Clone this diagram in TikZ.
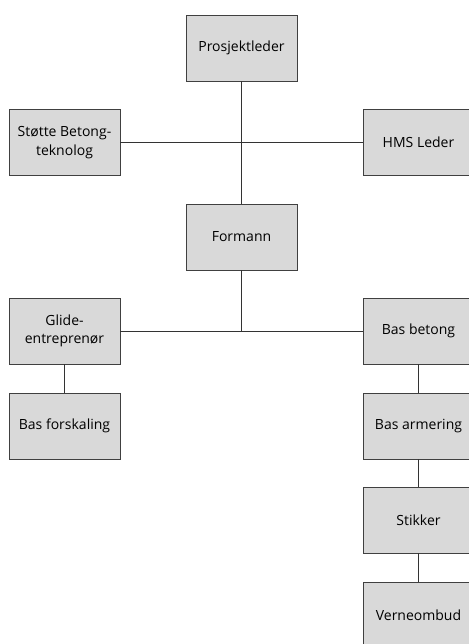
\documentclass[tikz,border=0pt]{standalone}
\usepackage{fontspec}
\setmainfont{Open Sans}
\begin{document}
\begin{tikzpicture}[x=1pt,y=-1pt,
  box/.style={draw=black!75,fill=black!15,line width=0.8pt,minimum width=111pt,minimum height=66pt,inner sep=0pt,align=center,font=\fontsize{14pt}{18.5pt}\selectfont},
  link/.style={draw=black!80,line width=0.9pt}]
\useasboundingbox (0,0) rectangle (468,644);
\node[box] (pl) at (241.5,48) {Prosjektleder};
\node[box] (st) at (64.5,142.5) {Støtte Betong-\\teknolog};
\node[box] (hms) at (418.5,142.5) {HMS Leder};
\node[box] (fm) at (241.5,237) {Formann};
\node[box] (gl) at (64.5,331) {Glide-\\entreprenør};
\node[box] (bb) at (418.5,331) {Bas betong};
\node[box] (bf) at (64.5,426) {Bas forskaling};
\node[box] (ba) at (418.5,426) {Bas armering};
\node[box] (sk) at (418.5,520) {Stikker};
\node[box] (vo) at (418.5,615) {Verneombud};
\draw[link] (pl) -- (fm);
\draw[link] (st) -- (hms);
\draw[link] (fm.south) -- (fm.south |- gl.east);
\draw[link] (gl) -- (bb);
\draw[link] (gl) -- (bf);
\draw[link] (bb) -- (ba);
\draw[link] (ba) -- (sk);
\draw[link] (sk) -- (vo);
\end{tikzpicture}
\end{document}
